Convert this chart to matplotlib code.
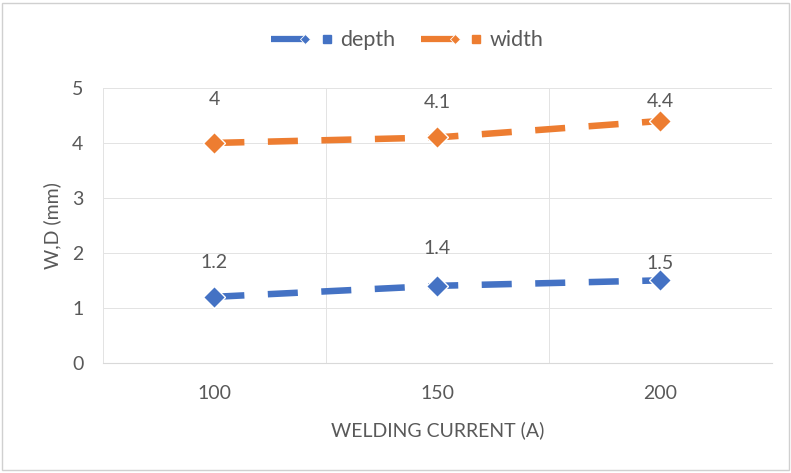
import matplotlib.pyplot as plt
from matplotlib.lines import Line2D
from matplotlib.legend_handler import HandlerBase
from matplotlib.patches import Rectangle

plt.rcParams['font.family'] = ['Lato', 'DejaVu Sans']

# weld bead size vs welding current
current = ['100', '150', '200']
depth = [1.2, 1.4, 1.5]
width = [4.0, 4.1, 4.4]

# how far each value label sits above its point (pt)
depth_lbl_off = [25, 27, 12]
width_lbl_off = [31, 25, 14]

blue = '#4472C4'
orange = '#ED7D31'
grey_txt = '#595959'
grid_col = '#E3E3E3'
fs = 14


class LineSquare(HandlerBase):
    # legend key: thick line ending in a diamond, then a small square
    def create_artists(self, legend, orig_handle, xdescent, ydescent,
                       width, height, fontsize, trans):
        c = orig_handle.get_color()
        y = height / 2 - ydescent
        x0 = -xdescent
        ln = Line2D([x0, x0 + width * 0.56], [y, y], color=c, lw=4.5,
                    solid_capstyle='butt')
        dm = Line2D([x0 + width * 0.56], [y], ls='none', marker='D', ms=5.5,
                    color=c, mec='white', mew=0.6)
        sq = Line2D([x0 + width * 0.92], [y], ls='none', marker='s', ms=6,
                    color=c)
        for a in (ln, dm, sq):
            a.set_transform(trans)
        return [ln, dm, sq]


fig = plt.figure(figsize=(7.91, 4.73), dpi=100)
ax = fig.add_axes([0.130, 0.233, 0.846, 0.581])

x = range(len(current))
style = dict(lw=4.7, dashes=(4.6, 3.6), marker='D', markersize=11,
             markeredgecolor='white', markeredgewidth=1, dash_capstyle='butt')
l1, = ax.plot(x, depth, color=blue, zorder=3, **style)
l2, = ax.plot(x, width, color=orange, zorder=3, **style)

for i in x:
    ax.annotate(f'{depth[i]:g}', (i, depth[i]), xytext=(0, depth_lbl_off[i]),
                textcoords='offset points', ha='center', va='center',
                fontsize=fs, color=grey_txt)
    ax.annotate(f'{width[i]:g}', (i, width[i]), xytext=(0, width_lbl_off[i]),
                textcoords='offset points', ha='center', va='center',
                fontsize=fs, color=grey_txt)

ax.set_xlim(-0.5, len(current) - 0.5)
ax.set_ylim(0, 5)
ax.set_xticks(list(x))
ax.set_xticklabels(current)
ax.set_xticks([i - 0.5 for i in range(len(current) + 1)], minor=True)
ax.set_yticks(range(6))
ax.tick_params(which='both', length=0, colors=grey_txt, labelsize=fs)
ax.tick_params(axis='x', pad=16)
ax.tick_params(axis='y', pad=14)
ax.grid(axis='y', color=grid_col, lw=0.7)
ax.grid(axis='x', which='minor', color=grid_col, lw=0.7)
for s in ['top', 'right', 'left']:
    ax.spines[s].set_visible(False)
ax.spines['bottom'].set_color('#D9D9D9')

ax.set_xlabel('WELDING CURRENT (A)', fontsize=fs, color=grey_txt, labelpad=14)
ax.set_ylabel('W,D (mm)', fontsize=fs, color=grey_txt, labelpad=8)

fig.legend([l1, l2], ['depth', 'width'], loc='center',
           bbox_to_anchor=(0.515, 0.915), ncol=2, frameon=False, fontsize=15.5,
           labelcolor=grey_txt, handlelength=2.8, handletextpad=0.4,
           columnspacing=1.2, handler_map={Line2D: LineSquare()})

fig.patches.append(Rectangle((0.003, 0.006), 0.994, 0.988, transform=fig.transFigure,
                             fill=False, edgecolor='#D0D0D0', lw=1))

fig.savefig('out.png', dpi=100, facecolor='white')
